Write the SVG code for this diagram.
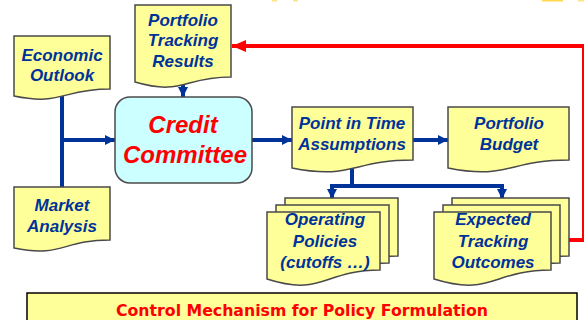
<svg xmlns="http://www.w3.org/2000/svg" width="584" height="320" viewBox="0 0 584 320">
  <defs>
    <style>
      .doc { fill: #FFFF99; stroke: #4A4A4A; stroke-width: 1.5; }
      .lbl { font-family: "Liberation Sans", Arial, sans-serif; font-weight: bold; font-style: italic; font-size: 17px; fill: #003399; text-anchor: middle; }
      .big { font-family: "Liberation Sans", Arial, sans-serif; font-weight: bold; font-style: italic; font-size: 24px; fill: #FF0000; text-anchor: middle; }
      .flow { fill: none; stroke: #003399; stroke-width: 4; }
      .back { fill: none; stroke: #FF0000; stroke-width: 4; }
      .title { font-family: "DejaVu Sans", Tahoma, sans-serif; font-weight: bold; font-size: 16px; fill: #FF0000; text-anchor: middle; }
    </style>
    <marker id="arrBlue" viewBox="0 0 10 10" refX="10" refY="5" markerWidth="10" markerHeight="10" markerUnits="userSpaceOnUse" orient="auto">
      <path d="M0,0 L10,5 L0,10 Z" fill="#003399"/>
    </marker>
    <marker id="arrRed" viewBox="0 0 14 12" refX="14" refY="6" markerWidth="14" markerHeight="12" markerUnits="userSpaceOnUse" orient="auto">
      <path d="M0,0 L14,6 L0,12 Z" fill="#FF0000"/>
    </marker>
  </defs>

  <!-- clipped fragments along the top edge -->
  <g fill="#FFE680">
    <rect x="272" y="0" width="5" height="1.5"/>
    <rect x="293" y="0" width="5" height="1.5"/>
    <rect x="542" y="0" width="21" height="1.5" fill="#FFD84D"/>
    <rect x="578" y="0" width="6" height="1.5"/>
  </g>

  <!-- connectors -->
  <g id="connectors">
    <path class="flow" d="M62,96 V187"/>
    <path class="flow" d="M62,140 H115" marker-end="url(#arrBlue)"/>
    <path class="flow" d="M183,84 V97" marker-end="url(#arrBlue)"/>
    <path class="flow" d="M252,140 H292" marker-end="url(#arrBlue)"/>
    <path class="flow" d="M413,140 H448" marker-end="url(#arrBlue)"/>
    <path class="flow" d="M352,168 V186"/>
    <path class="flow" d="M330,186 H504"/>
    <path class="flow" d="M332,186 V199" marker-end="url(#arrBlue)"/>
    <path class="flow" d="M502,186 V199" marker-end="url(#arrBlue)"/>
    <path class="back" d="M569,240 H584 V46 H232" marker-end="url(#arrRed)"/>
  </g>

  <g id="economic-outlook">
    <path class="doc" d="M14,36 H110 V89 C62,89 62,106 14,96 Z"/>
    <text class="lbl" x="62" y="61">Economic</text>
    <text class="lbl" x="62" y="81">Outlook</text>
  </g>

  <g id="market-analysis">
    <path class="doc" d="M14,187 H110 V240 C62,240 62,258 14,248 Z"/>
    <text class="lbl" x="62" y="211">Market</text>
    <text class="lbl" x="62" y="232">Analysis</text>
  </g>

  <g id="portfolio-tracking-results">
    <path class="doc" d="M135,5 H231 V77 C183,77 183,96 135,82 Z"/>
    <text class="lbl" x="183" y="26">Portfolio</text>
    <text class="lbl" x="183" y="46">Tracking</text>
    <text class="lbl" x="183" y="67">Results</text>
  </g>

  <g id="credit-committee">
    <rect x="115" y="97" width="137" height="86" rx="15" ry="15" fill="#CCFFFF" stroke="#4A4A4A" stroke-width="1.5"/>
    <text class="big" x="183" y="133">Credit</text>
    <text class="big" x="185" y="163">Committee</text>
  </g>

  <g id="point-in-time">
    <path class="doc" d="M292,107 H413 V160 C352,160 352,180 292,168 Z"/>
    <text class="lbl" x="352" y="129">Point in Time</text>
    <text class="lbl" x="352" y="150">Assumptions</text>
  </g>

  <g id="portfolio-budget">
    <path class="doc" d="M448,107 H569 V160 C508,160 508,180 448,168 Z"/>
    <text class="lbl" x="509" y="129">Portfolio</text>
    <text class="lbl" x="509" y="150">Budget</text>
  </g>

  <g id="operating-policies">
    <path class="doc" d="M285,198 H398 V256 C341,256 341,283 285,265 Z"/>
    <path class="doc" d="M276,205 H389 V263 C332,263 332,290 276,272 Z"/>
    <path class="doc" d="M267,212 H380 V270 C323,270 323,297 267,279 Z"/>
    <text class="lbl" x="325" y="225">Operating</text>
    <text class="lbl" x="325" y="247">Policies</text>
    <text class="lbl" x="325" y="268">(cutoffs …)</text>
  </g>

  <g id="expected-tracking-outcomes">
    <path class="doc" d="M452,198 H569 V256 C510,256 510,283 452,265 Z"/>
    <path class="doc" d="M443,205 H560 V263 C501,263 501,290 443,272 Z"/>
    <path class="doc" d="M434,212 H551 V270 C492,270 492,297 434,279 Z"/>
    <text class="lbl" x="493" y="225">Expected</text>
    <text class="lbl" x="493" y="247">Tracking</text>
    <text class="lbl" x="493" y="268">Outcomes</text>
  </g>

  <g id="caption">
    <rect x="27" y="293" width="550" height="32" fill="#FFFF99" stroke="#000000" stroke-width="1.5"/>
    <text class="title" x="302" y="316" textLength="372" lengthAdjust="spacingAndGlyphs">Control Mechanism for Policy Formulation</text>
  </g>
</svg>
